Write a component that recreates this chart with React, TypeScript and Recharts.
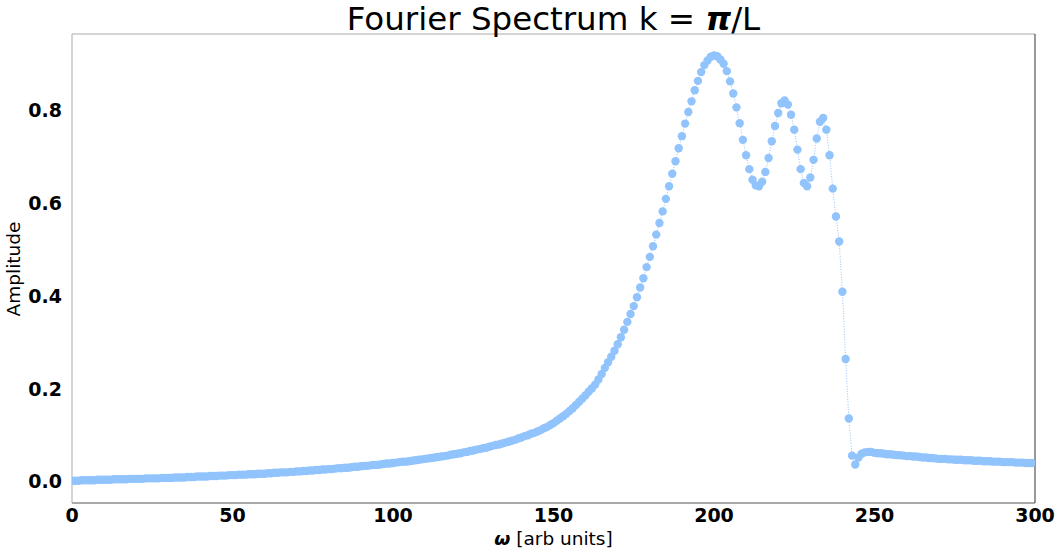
import { LineChart, Line, XAxis, YAxis, ReferenceLine } from "recharts";

// amplitude, one value per omega step (0..299)
const amplitude = [
  0.002, 0.002, 0.002, 0.003, 0.003, 0.003, 0.003, 0.003, 0.004, 0.004,
  0.004, 0.004, 0.004, 0.005, 0.005, 0.005, 0.005, 0.005, 0.006, 0.006,
  0.006, 0.006, 0.006, 0.007, 0.007, 0.007, 0.007, 0.007, 0.008, 0.008,
  0.008, 0.008, 0.009, 0.009, 0.009, 0.009, 0.01, 0.01, 0.01, 0.011,
  0.011, 0.011, 0.011, 0.012, 0.012, 0.012, 0.013, 0.013, 0.013, 0.014,
  0.014, 0.014, 0.015, 0.015, 0.015, 0.016, 0.016, 0.016, 0.017, 0.017,
  0.017, 0.018, 0.018, 0.019, 0.019, 0.02, 0.02, 0.02, 0.021, 0.021,
  0.022, 0.022, 0.023, 0.023, 0.024, 0.024, 0.025, 0.025, 0.026, 0.026,
  0.027, 0.027, 0.028, 0.029, 0.029, 0.03, 0.03, 0.031, 0.032, 0.032,
  0.033, 0.034, 0.034, 0.035, 0.036, 0.036, 0.037, 0.038, 0.039, 0.039,
  0.04, 0.041, 0.042, 0.043, 0.043, 0.044, 0.045, 0.046, 0.047, 0.048,
  0.049, 0.05, 0.051, 0.052, 0.053, 0.054, 0.055, 0.056, 0.058, 0.059,
  0.06, 0.061, 0.063, 0.064, 0.066, 0.067, 0.069, 0.07, 0.072, 0.073,
  0.075, 0.077, 0.079, 0.08, 0.082, 0.084, 0.086, 0.088, 0.09, 0.093,
  0.095, 0.098, 0.1, 0.103, 0.105, 0.108, 0.111, 0.115, 0.118, 0.122,
  0.126, 0.131, 0.136, 0.141, 0.146, 0.152, 0.158, 0.165, 0.172, 0.179,
  0.186, 0.194, 0.201, 0.209, 0.22, 0.232, 0.245, 0.257, 0.269, 0.282,
  0.296, 0.311, 0.327, 0.344, 0.361, 0.378, 0.397, 0.418, 0.438, 0.462,
  0.484, 0.507, 0.532, 0.557, 0.582, 0.609, 0.636, 0.663, 0.69, 0.718,
  0.744, 0.771, 0.796, 0.819, 0.843, 0.863, 0.882, 0.897, 0.907, 0.915,
  0.918, 0.916, 0.909, 0.9, 0.884, 0.862, 0.836, 0.806, 0.772, 0.736,
  0.703, 0.673, 0.65, 0.638, 0.636, 0.646, 0.667, 0.697, 0.733, 0.766,
  0.794, 0.815, 0.821, 0.812, 0.79, 0.758, 0.715, 0.673, 0.643, 0.636,
  0.655, 0.693, 0.739, 0.775, 0.783, 0.758, 0.703, 0.631, 0.571, 0.517,
  0.409, 0.264, 0.136, 0.056, 0.037, 0.052, 0.06, 0.063, 0.064, 0.064,
  0.062, 0.061, 0.061, 0.06, 0.059, 0.059, 0.058, 0.057, 0.057, 0.056,
  0.055, 0.055, 0.054, 0.054, 0.053, 0.052, 0.052, 0.051, 0.051, 0.05,
  0.049, 0.049, 0.049, 0.048, 0.048, 0.047, 0.047, 0.047, 0.046, 0.046,
  0.046, 0.045, 0.045, 0.045, 0.044, 0.044, 0.044, 0.043, 0.043, 0.043,
  0.042, 0.042, 0.042, 0.042, 0.041, 0.041, 0.041, 0.04, 0.04, 0.04,
];

const xTicks = [0, 50, 100, 150, 200, 250, 300];
const yTicks = [0, 0.2, 0.4, 0.6, 0.8];

const X_MAX = 300;
const Y_MIN = -0.046;
const Y_MAX = 0.964;

const BLUE = "#91c3fc";
const FONT = "DejaVu Sans";

const data = amplitude.map((a, i) => ({ omega: i, amp: a }));

const tickStyle = { fontSize: 19, fontWeight: "bold", fill: "#000", fontFamily: FONT };

export default function App() {
  return (
    <div style={{ position: "absolute", left: 0, top: 0, width: 1060, height: 554, background: "#fff" }}>
      <LineChart
        width={1060}
        height={554}
        data={data}
        margin={{ top: 34, right: 25, bottom: 0, left: 12 }}
      >
        <XAxis
          dataKey="omega"
          type="number"
          domain={[0, X_MAX]}
          ticks={xTicks}
          height={51}
          tickLine={false}
          tickSize={0}
          tickMargin={6}
          tick={tickStyle}
          axisLine={{ stroke: "#555", strokeWidth: 1 }}
          allowDataOverflow
        />
        <YAxis
          type="number"
          domain={[Y_MIN, Y_MAX]}
          ticks={yTicks}
          width={60}
          tickLine={false}
          tickSize={0}
          tickMargin={10}
          tick={tickStyle}
          tickFormatter={(v: number) => v.toFixed(1)}
          axisLine={{ stroke: "#aaa", strokeWidth: 1 }}
          allowDataOverflow
        />
        <ReferenceLine y={Y_MAX} stroke="#aaa" strokeWidth={1} />
        <ReferenceLine x={X_MAX} stroke="#333" strokeWidth={1} />
        <Line
          dataKey="amp"
          type="linear"
          stroke={BLUE}
          strokeWidth={1}
          strokeDasharray="1 1.6"
          dot={{ r: 4.2, fill: BLUE, stroke: "none" }}
          activeDot={false}
          isAnimationActive={false}
        />
      </LineChart>
      <svg
        width={1060}
        height={554}
        style={{ position: "absolute", left: 0, top: 0, pointerEvents: "none" }}
      >
        <text x={553.5} y={30} textAnchor="middle" fontFamily={FONT} fontSize={32.5} fill="#000">
          Fourier Spectrum k = <tspan fontWeight="bold" fontStyle="italic">π</tspan>/L
        </text>
        <text x={553.5} y={545} textAnchor="middle" fontFamily={FONT} fontSize={18.5} fill="#000">
          <tspan fontWeight="bold" fontStyle="italic">ω</tspan> [arb units]
        </text>
        <text
          x={20}
          y={269}
          textAnchor="middle"
          fontFamily={FONT}
          fontSize={18.5}
          fill="#000"
          transform="rotate(-90 20 269)"
        >
          Amplitude
        </text>
      </svg>
    </div>
  );
}
